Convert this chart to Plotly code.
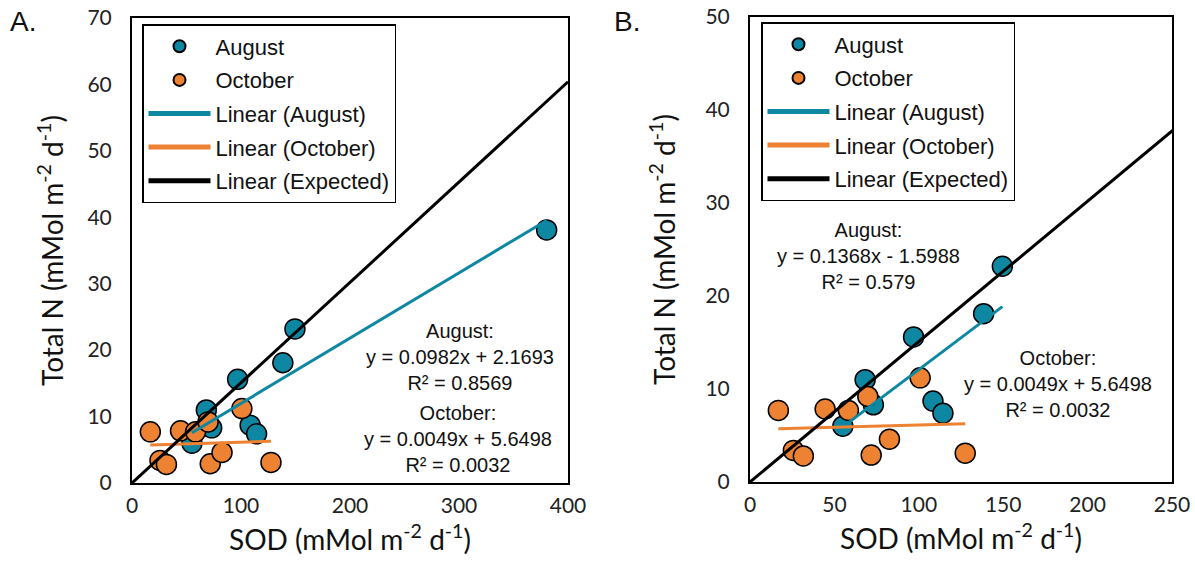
import plotly.graph_objects as go

# ---------------- data ----------------
aug_sod = [149.5, 138.4, 96.9, 68.2, 73.1, 108.4, 114.3, 55.0]
aug_tn = [23.2, 18.1, 15.6, 11.0, 8.3, 8.7, 7.4, 6.0]
aug_extra_sod = [380.4]          # outlier only shown in panel A
aug_extra_tn = [38.1]

oct_sod = [16.8, 44.5, 58.3, 69.8, 100.8, 25.7, 31.6, 71.8, 82.6, 127.5]
oct_tn = [7.7, 7.85, 7.7, 9.2, 11.2, 3.4, 2.8, 2.9, 4.6, 3.1]

# trendline coefficients (slope, intercept) from the on-chart equations
fit_aug_A = (0.0982, 2.1693)
fit_aug_B = (0.1368, -1.5988)
fit_oct = (0.0049, 5.6498)

expected_sod = [0, 400]
expected_tn = [0, 60.4]

x_ticks_A = [0, 100, 200, 300, 400]
y_ticks_A = [0, 10, 20, 30, 40, 50, 60, 70]
x_ticks_B = [0, 50, 100, 150, 200, 250]
y_ticks_B = [0, 10, 20, 30, 40, 50]

TEAL = "#0E87A2"
ORANGE = "#EC8232"
W, H = 1195, 561

fig = go.Figure()


def fit_line(coef, xs):
    x0, x1 = min(xs), max(xs)
    return [x0, x1], [coef[0] * x0 + coef[1], coef[0] * x1 + coef[1]]


def add_panel(xa, ya, leg, a_sod, a_tn, a_fit):
    mk = dict(size=20, line=dict(color="black", width=1.5))
    common = dict(xaxis=xa, yaxis=ya, legend=leg)
    fig.add_trace(go.Scatter(x=a_sod, y=a_tn, mode="markers", name="August", legendgroup=leg + "a",
                             marker=dict(color=TEAL, **mk), **common))
    fig.add_trace(go.Scatter(x=oct_sod, y=oct_tn, mode="markers", name="October", legendgroup=leg + "b",
                             marker=dict(color=ORANGE, **mk), **common))
    lx, ly = fit_line(a_fit, a_sod)
    fig.add_trace(go.Scatter(x=lx, y=ly, mode="lines", name="Linear (August)", legendgroup=leg + "c",
                             line=dict(color=TEAL, width=3), **common))
    lx, ly = fit_line(fit_oct, oct_sod)
    fig.add_trace(go.Scatter(x=lx, y=ly, mode="lines", name="Linear (October)", legendgroup=leg + "d",
                             line=dict(color=ORANGE, width=3), **common))
    fig.add_trace(go.Scatter(x=expected_sod, y=expected_tn, mode="lines", name="Linear (Expected)",
                             legendgroup=leg + "e", line=dict(color="black", width=3), **common))


add_panel("x", "y", "legend", aug_sod + aug_extra_sod, aug_tn + aug_extra_tn, fit_aug_A)
add_panel("x2", "y2", "legend2", aug_sod, aug_tn, fit_aug_B)

tickfont = dict(family="Lato, 'Open Sans', sans-serif", size=21, color="#222")
titlefont = dict(family="Lato, 'Open Sans', sans-serif", size=28, color="#111")
xtitle = "SOD (mMol m<sup>-2</sup> d<sup>-1</sup>)"
ytitle = "Total N (mMol m<sup>-2</sup> d<sup>-1</sup>)"

axis_common = dict(showline=True, mirror=True, linecolor="black", linewidth=2,
                   showgrid=False, zeroline=False, ticks="", tickfont=tickfont,
                   automargin=False, ticklabeloverflow="allow")


def fx(v):
    return v / W


def fy(v):
    return 1 - v / H


legend_common = dict(xanchor="left", yanchor="top", bordercolor="black", borderwidth=1.5,
                     bgcolor="white", traceorder="grouped", tracegroupgap=2, itemwidth=62,
                     font=dict(family="Liberation Sans, Arial, sans-serif", size=22, color="#111"),
                     itemsizing="constant")

fig.update_layout(
    width=W, height=H, margin=dict(l=0, r=0, t=0, b=0, autoexpand=False),
    paper_bgcolor="white", plot_bgcolor="white",
    font=dict(family="Liberation Sans, Arial, sans-serif", color="#111"),
    xaxis=dict(domain=[fx(132), fx(568)], range=[0, 400], tickvals=x_ticks_A, ticklabelstandoff=3,
               title=dict(text=xtitle, font=titlefont, standoff=14), anchor="y", **axis_common),
    yaxis=dict(domain=[fy(483), fy(18)], range=[0, 70], tickvals=y_ticks_A, ticklabelstandoff=14,
               title=dict(text=ytitle, font=titlefont, standoff=16), anchor="x", **axis_common),
    xaxis2=dict(domain=[fx(750), fx(1172)], range=[0, 250], tickvals=x_ticks_B, ticklabelstandoff=3,
                title=dict(text=xtitle, font=titlefont, standoff=14), anchor="y2", **axis_common),
    yaxis2=dict(domain=[fy(482), fy(17)], range=[0, 50], tickvals=y_ticks_B, ticklabelstandoff=14,
                title=dict(text=ytitle, font=titlefont, standoff=22), anchor="x2", **axis_common),
    legend=dict(x=fx(142), y=fy(24), **legend_common),
    legend2=dict(x=fx(761), y=fy(22), **legend_common),
    showlegend=True,
)

ann_font = dict(family="Liberation Sans, Arial, sans-serif", size=20, color="#111")
annotations = [
    dict(text="A.", x=fx(8), y=fy(22), xanchor="left", yanchor="middle",
         font=dict(family="Liberation Sans, Arial, sans-serif", size=28, color="#111")),
    dict(text="B.", x=fx(612), y=fy(22), xanchor="left", yanchor="middle",
         font=dict(family="Liberation Sans, Arial, sans-serif", size=28, color="#111")),
    dict(text="August:<br>y = 0.0982x + 2.1693<br>R² = 0.8569", x=fx(460), y=fy(357),
         xanchor="center", yanchor="middle", align="center", font=ann_font),
    dict(text="October:<br>y = 0.0049x + 5.6498<br>R² = 0.0032", x=fx(458), y=fy(439),
         xanchor="center", yanchor="middle", align="center", font=ann_font),
    dict(text="August:<br>y = 0.1368x - 1.5988<br>R² = 0.579", x=fx(868), y=fy(256),
         xanchor="center", yanchor="middle", align="center", font=ann_font),
    dict(text="October:<br>y = 0.0049x + 5.6498<br>R² = 0.0032", x=fx(1058), y=fy(384),
         xanchor="center", yanchor="middle", align="center", font=ann_font),
]
for a in annotations:
    a.update(xref="paper", yref="paper", showarrow=False)
fig.update_layout(annotations=annotations)

# remove the default 8px page margin so the figure fills the window exactly
fig.write_html("out.html", config={"displayModeBar": False},
               post_script="document.body.style.margin='0px';")
